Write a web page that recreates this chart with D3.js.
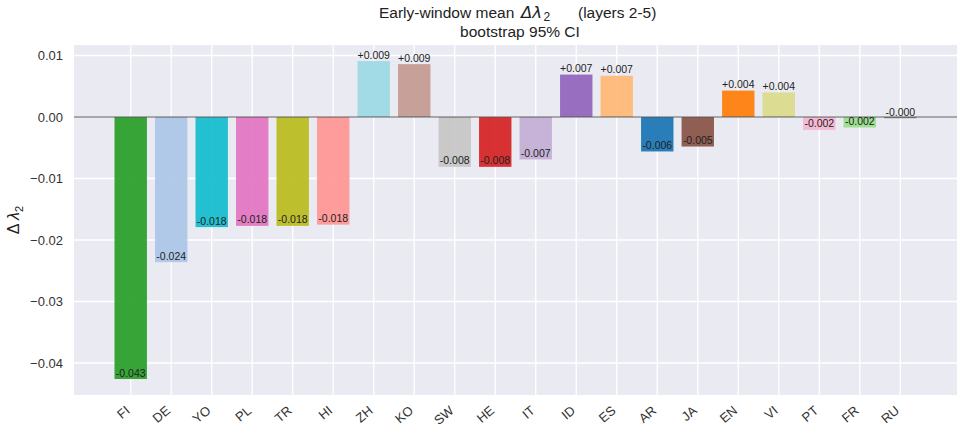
<!DOCTYPE html>
<html><head><meta charset="utf-8">
<script src="https://cdn.jsdelivr.net/npm/d3@7"></script>
<style>
body{margin:0;background:#fff}
text{font-family:"Liberation Sans",Arial,sans-serif}
</style>
</head><body>
<svg id="c" width="957" height="428"></svg>
<script>
const languages = ["FI","DE","YO","PL","TR","HI","ZH","KO","SW","HE","IT","ID","ES","AR","JA","EN","VI","PT","FR","RU"];
const meanDelta = [-0.0426,-0.0236,-0.0179,-0.0177,-0.0177,-0.0175,0.0091,0.0086,-0.0081,-0.0081,-0.0069,0.0069,0.0067,-0.0056,-0.0048,0.0043,0.0040,-0.0021,-0.0017,-0.0002];
const barColors = ["#2ca02c","#aec7e8","#17becf","#e377c2","#bcbd22","#ff9896","#9edae5","#c49c94","#c7c7c7","#d62728","#c5b0d5","#9467bd","#ffbb78","#1f77b4","#8c564b","#ff7f0e","#dbdb8d","#f7b6d2","#98df8a","#7f7f7f"];
const yTicks = [0.01,0.00,-0.01,-0.02,-0.03,-0.04];
const yDomain = [-0.0452, 0.01171];

const svg = d3.select("#c");
const L = 74, R = 957, T = 45, B = 395;

const x = d3.scaleBand().domain(languages).range([L, R]).paddingInner(0.2).paddingOuter(1.0);
const y = d3.scaleLinear().domain(yDomain).range([B, T]);

// background
svg.append("rect").attr("x", L).attr("y", T).attr("width", R - L).attr("height", B - T).attr("fill", "#EAEAF2");

// grid
const g = svg.append("g");
g.selectAll("line.h").data(yTicks).join("line")
  .attr("x1", L).attr("x2", R).attr("y1", d => y(d)).attr("y2", d => y(d))
  .attr("stroke", "#fff").attr("stroke-width", 1.3);
g.selectAll("line.v").data(languages).join("line")
  .attr("x1", d => x(d) + x.bandwidth() / 2).attr("x2", d => x(d) + x.bandwidth() / 2)
  .attr("y1", T).attr("y2", B)
  .attr("stroke", "#fff").attr("stroke-width", 1.3);

// bars
const data = languages.map((k, i) => ({k, v: meanDelta[i], c: barColors[i]}));
svg.append("g").selectAll("rect").data(data).join("rect")
  .attr("x", d => x(d.k)).attr("width", x.bandwidth())
  .attr("y", d => y(Math.max(0, d.v)))
  .attr("height", d => Math.abs(y(d.v) - y(0)))
  .attr("fill", d => d.c).attr("fill-opacity", 0.95);

// zero line
svg.append("line").attr("x1", L).attr("x2", R).attr("y1", y(0)).attr("y2", y(0))
  .attr("stroke", "#555").attr("stroke-width", 1.2);

// value labels
svg.append("g").selectAll("text").data(data).join("text")
  .attr("x", d => x(d.k) + x.bandwidth() / 2)
  .attr("y", d => y(d.v) - 2.5)
  .attr("text-anchor", "middle").attr("font-size", 10.5).attr("fill", "#222")
  .text(d => (d.v >= 0 ? "+" : "-") + Math.abs(d.v).toFixed(3));

// y tick labels
svg.append("g").selectAll("text").data(yTicks).join("text")
  .attr("x", L - 11).attr("y", d => y(d)).attr("dy", "0.35em")
  .attr("text-anchor", "end").attr("font-size", 13).attr("fill", "#333")
  .text(d => d3.format(".2f")(d));

// x tick labels
svg.append("g").selectAll("text").data(languages).join("text")
  .attr("text-anchor", "end").attr("font-size", 13).attr("fill", "#333")
  .attr("transform", d => `translate(${x(d) + x.bandwidth() / 2},${B + 17}) rotate(-40)`)
  .text(d => d);

// y axis label
const yl = svg.append("text").attr("text-anchor", "middle").attr("font-size", 16).attr("fill", "#222")
  .attr("transform", `translate(19,${(T + B) / 2}) rotate(-90)`);
yl.append("tspan").text("Δ ");
yl.append("tspan").attr("font-style", "italic").text("λ");
yl.append("tspan").attr("font-size", 11).attr("dy", 4).text("2");

// title
const t1 = svg.append("text").attr("y", 18).attr("font-size", 15.5).attr("fill", "#222");
t1.append("tspan").attr("x", 379).text("Early-window mean");
t1.append("tspan").attr("x", 521).attr("font-style", "italic").attr("font-family", "DejaVu Sans").attr("font-size", 16.5).text("Δλ");
t1.append("tspan").attr("font-size", 12).attr("dx", 1.5).attr("dy", 3).text("2");
t1.append("tspan").attr("x", 578).attr("dy", -3).text("(layers 2-5)");
svg.append("text").attr("x", 520).attr("y", 37).attr("text-anchor", "middle").attr("font-size", 15.5).attr("fill", "#222")
  .text("bootstrap 95% CI");
</script>
</body></html>
